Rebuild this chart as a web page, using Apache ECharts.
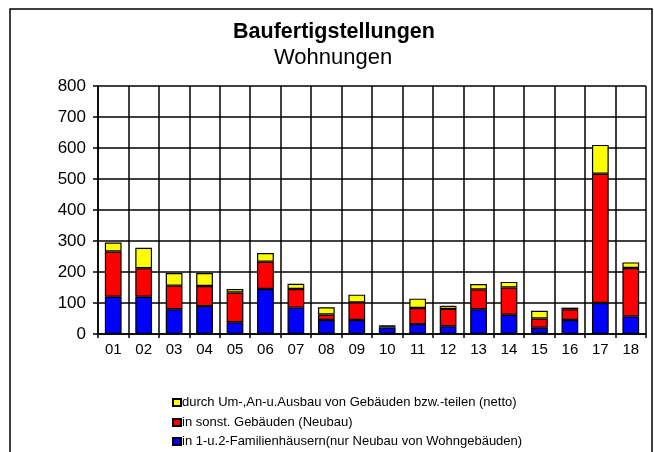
<!DOCTYPE html>
<html>
<head>
<meta charset="utf-8">
<script src="https://cdn.jsdelivr.net/npm/echarts@6/dist/echarts.min.js"></script>
<style>html,body{margin:0;padding:0;background:#fff;}#c{width:654px;height:452px;}</style>
</head>
<body>
<div id="c"></div>
<script>
const categories = ['01','02','03','04','05','06','07','08','09','10','11','12','13','14','15','16','17','18'];
const seriesNames = [
  'in 1-u.2-Familienhäusern(nur Neubau von Wohngebäuden)',
  'in sonst. Gebäuden (Neubau)',
  'durch Um-,An-u.Ausbau von Gebäuden bzw.-teilen (netto)'
];
const familienhaeuser = [120,120,80,90,38,145,85,45,45,21,32,25,80,62,20,45,100,57];
const sonstGebaeude   = [146,92,76,65,96,88,60,18,57,4,52,56,64,88,30,35,417,156];
const umbau           = [29,66,41,42,11,28,17,23,25,2,30,10,17,18,25,5,93,18];
const yTicks = {min:0, max:800, interval:100};
const colors = ['#0000FF','#FF0000','#FFFF00'];
const titleMain = 'Baufertigstellungen';
const titleSub = 'Wohnungen';

const font = 'Liberation Sans, Arial, sans-serif';
const chart = echarts.init(document.getElementById('c'));
const values = [familienhaeuser, sonstGebaeude, umbau];
const legendOrder = [2, 1, 0];
const legendTops = [391, 411, 430];
chart.setOption({
  animation: false,
  textStyle: {fontFamily: font, color: '#000'},
  graphic: [
    {type:'rect', shape:{x:10, y:9, width:642, height:500}, style:{fill:'none', stroke:'#000', lineWidth:1.5}, z:-1},
    {type:'text', x:334, y:43, style:{text:titleMain, font:'bold 21.5px ' + font, fill:'#000', textAlign:'center', textVerticalAlign:'bottom'}},
    {type:'text', x:333, y:69, style:{text:titleSub, font:'22px ' + font, fill:'#000', textAlign:'center', textVerticalAlign:'bottom'}}
  ],
  grid: {left:98, right:8, top:86, bottom:118, containLabel:false},
  legend: legendOrder.map((si, k) => ({
    orient:'horizontal', left:167, top:legendTops[k],
    data:[seriesNames[si]],
    itemWidth:8, itemHeight:7, itemGap:0,
    icon:'rect',
    textStyle:{fontSize:13, color:'#000', fontFamily:font, padding:[0,0,0,-4]},
    selectedMode:false
  })),
  xAxis: {
    type:'category', data:categories,
    axisLine:{show:true, lineStyle:{color:'#000', width:1.5}},
    axisTick:{show:true, length:4, lineStyle:{color:'#000', width:1.5}},
    axisLabel:{fontSize:15, color:'#000', margin:8, fontFamily:font},
    splitLine:{show:true, lineStyle:{color:'#000', width:1.5}}
  },
  yAxis: {
    type:'value', min:yTicks.min, max:yTicks.max, interval:yTicks.interval,
    axisLine:{show:true, lineStyle:{color:'#000', width:1.5}},
    axisTick:{show:true, length:5, lineStyle:{color:'#000', width:1.5}},
    axisLabel:{fontSize:17, color:'#000', margin:12, fontFamily:font},
    splitLine:{show:true, lineStyle:{color:'#000', width:1.5}}
  },
  series: seriesNames.map((n,i)=>({
    name:n, type:'bar', stack:'total', data:values[i], barWidth:'55%',
    itemStyle:{color:colors[i], borderColor:'#000', borderWidth:1.2}
  }))
});
</script>
</body>
</html>
